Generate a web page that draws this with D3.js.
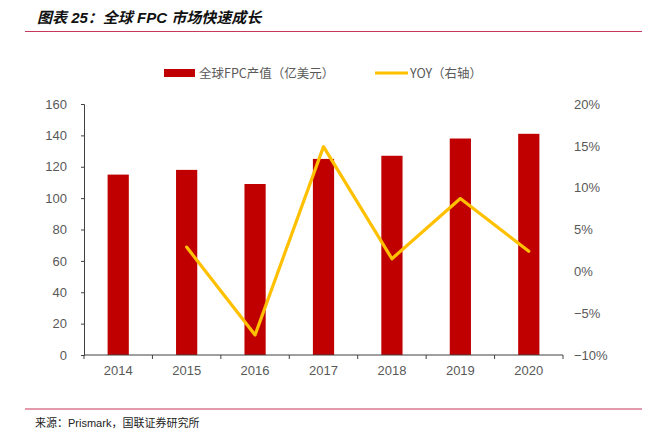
<!DOCTYPE html>
<html>
<head>
<meta charset="utf-8">
<script src="https://cdn.jsdelivr.net/npm/d3@7"></script>
<style>
  html, body { margin: 0; padding: 0; background: #fff; }
  svg { display: block; }
  .tick text { font-family: "Liberation Sans Narrow", "Liberation Sans", Arial, sans-serif; font-size: 13px; fill: #595959; }
</style>
</head>
<body>
<svg id="chart" width="658" height="435"></svg>
<script>
// ── 数据 ──────────────────────────────────────────────
const years   = ['2014', '2015', '2016', '2017', '2018', '2019', '2020'];
const output  = [115, 118, 109, 125, 127, 138, 141];            // 全球FPC产值（亿美元）
const yoy     = [null, 2.9, -7.6, 14.9, 1.5, 8.7, 2.4];         // YOY %
const leftTicks  = [0, 20, 40, 60, 80, 100, 120, 140, 160];
const rightTicks = [-10, -5, 0, 5, 10, 15, 20];

const svg = d3.select('#chart');
const m = { left: 84, right: 563, top: 104, bottom: 355 };

// ── 标题 & 来源 ───────────────────────────────────────
svg.append('text')
    .attr('x', 37).attr('y', 23)
    .style('font-family', '"Liberation Sans", "Noto Sans CJK SC", sans-serif')
    .style('font-size', '15px').style('font-weight', 'bold').style('font-style', 'italic')
    .style('fill', '#111')
    .text('图表 25：全球 FPC 市场快速成长');

svg.append('line')
    .attr('x1', 25).attr('x2', 642).attr('y1', 31.5).attr('y2', 31.5)
    .attr('stroke', '#c8385a').attr('stroke-width', 1.2);

svg.append('line')
    .attr('x1', 25).attr('x2', 642).attr('y1', 409).attr('y2', 409)
    .attr('stroke', '#c8385a').attr('stroke-width', 1.2);

svg.append('text')
    .attr('x', 35).attr('y', 427)
    .style('font-family', '"Liberation Sans", "Noto Sans CJK SC", sans-serif')
    .style('font-size', '11px').style('fill', '#222')
    .text('来源：Prismark，国联证券研究所');

// ── 比例尺 ────────────────────────────────────────────
const x = d3.scaleBand().domain(years).range([m.left, m.right]).paddingInner(0.69).paddingOuter(0.345);
const yL = d3.scaleLinear().domain([0, 160]).range([m.bottom, m.top]);
const yR = d3.scaleLinear().domain([-10, 20]).range([m.bottom, m.top]);

// ── 柱 ────────────────────────────────────────────────
svg.append('g').selectAll('rect')
    .data(years)
    .enter()
    .append('rect')
    .attr('x', d => x(d))
    .attr('width', x.bandwidth())
    .attr('y', (d, i) => yL(output[i]))
    .attr('height', (d, i) => yL(0) - yL(output[i]))
    .attr('fill', '#c00000');

// ── 坐标轴 ────────────────────────────────────────────
const axL = svg.append('g')
    .attr('transform', `translate(${m.left},0)`)
    .call(d3.axisLeft(yL).tickValues(leftTicks).tickSize(3).tickPadding(14));
axL.select('.domain').attr('stroke', '#404040');
axL.selectAll('.tick line').attr('stroke', '#404040');

const axR = svg.append('g')
    .attr('transform', `translate(${m.right},0)`)
    .call(d3.axisRight(yR).tickValues(rightTicks).tickSize(0).tickPadding(11)
        .tickFormat(d => (d < 0 ? '\u2212' + Math.abs(d) : d) + '%'));
axR.select('.domain').remove();

const step = x.step();
const axX = svg.append('g')
    .attr('transform', `translate(0,${m.bottom})`)
    .call(d3.axisBottom(x).tickSize(0).tickPadding(11));
axX.select('.domain').attr('stroke', '#404040').attr('d', `M${m.left},0H${m.right}`);
// 类别分隔刻度
axX.append('g').selectAll('line')
    .data(d3.range(years.length + 1))
    .enter()
    .append('line')
    .attr('x1', i => m.left + i * step).attr('x2', i => m.left + i * step)
    .attr('y1', 0).attr('y2', 4)
    .attr('stroke', '#404040');

// ── YOY 折线 ──────────────────────────────────────────
const pts = years.map((d, i) => ({ year: d, v: yoy[i] })).filter(p => p.v !== null);
svg.append('path')
    .datum(pts)
    .attr('fill', 'none')
    .attr('stroke', '#ffc000')
    .attr('stroke-width', 3.2)
    .attr('stroke-linejoin', 'round')
    .attr('stroke-linecap', 'round')
    .attr('d', d3.line().x(p => x(p.year) + x.bandwidth() / 2).y(p => yR(p.v)));

// ── 图例 ──────────────────────────────────────────────
const lg = svg.append('g')
    .style('font-family', '"Liberation Sans Narrow", "Noto Sans CJK SC", sans-serif')
    .style('font-size', '12.5px').style('fill', '#595959');
lg.append('rect').attr('x', 164).attr('y', 69).attr('width', 31).attr('height', 8).attr('fill', '#c00000');
lg.append('text').attr('x', 199).attr('y', 78).text('全球FPC产值（亿美元）');
lg.append('line').attr('x1', 375).attr('x2', 408).attr('y1', 73).attr('y2', 73)
    .attr('stroke', '#ffc000').attr('stroke-width', 3.2);
lg.append('text').attr('x', 410).attr('y', 78).text('YOY（右轴）');
</script>
</body>
</html>
